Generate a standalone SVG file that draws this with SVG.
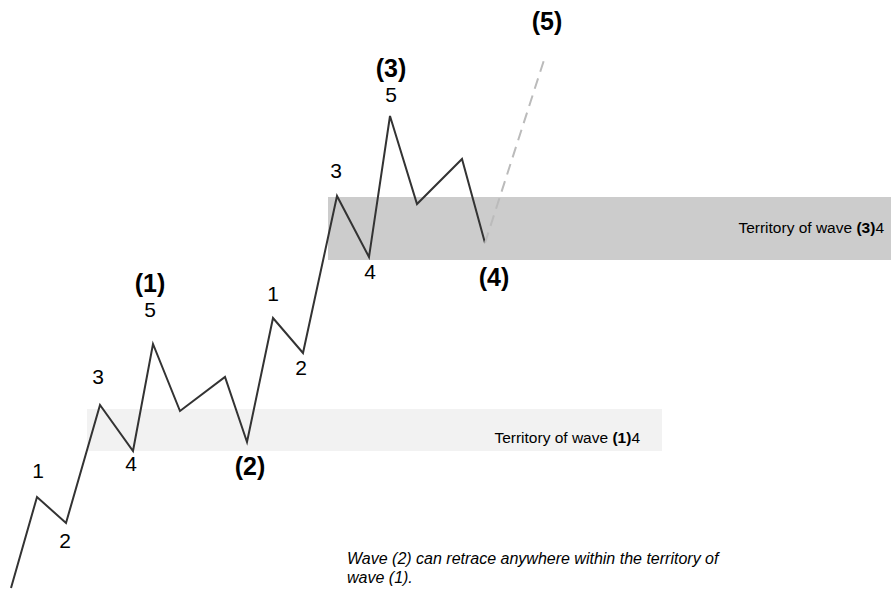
<svg xmlns="http://www.w3.org/2000/svg" width="891" height="589" viewBox="0 0 891 589">
<style>
text{font-family:"Liberation Sans",Arial,sans-serif;fill:#000}
.n{font-size:21px;text-anchor:middle}
.b{font-size:25px;font-weight:bold;text-anchor:middle}
.t{font-size:15.5px;text-anchor:end}
.i{font-size:16px;font-style:italic}
.w{fill:none;stroke:#333;stroke-width:2;stroke-linejoin:miter}
</style>
<rect width="891" height="589" fill="#fff"/>
<g id="territory1"><rect x="87" y="409" width="575" height="42" fill="#f2f2f2"/>
<text class="t" x="640" y="443">Territory of wave <tspan font-weight="bold">(1)</tspan>4</text></g>
<g id="territory3"><rect x="328" y="197" width="563" height="63" fill="#cccccc"/>
<text class="t" x="884" y="233">Territory of wave <tspan font-weight="bold">(3)</tspan>4</text></g>
<g id="connectors">
<polyline class="w" points="11,588 37,497 66,523 100,405 133,451 153,344 180,411 225,377 247,442 273,318 303,353 337,196 369,257 390,116 417,204 462,159 485,243"/>
<line x1="485" y1="243" x2="544" y2="60" stroke="#bbb" stroke-width="2" stroke-dasharray="11,7"/>
</g>
<g id="labels">
<text class="n" x="38" y="478">1</text>
<text class="n" x="65" y="548">2</text>
<text class="n" x="98" y="384">3</text>
<text class="n" x="131" y="471">4</text>
<text class="n" x="150" y="317">5</text>
<text class="b" x="150" y="292">(1)</text>
<text class="b" x="250" y="475">(2)</text>
<text class="n" x="273" y="301">1</text>
<text class="n" x="301" y="375">2</text>
<text class="n" x="336" y="178">3</text>
<text class="n" x="370" y="279">4</text>
<text class="n" x="391" y="102">5</text>
<text class="b" x="391" y="77">(3)</text>
<text class="b" x="494" y="286">(4)</text>
<text class="b" x="547" y="30">(5)</text>
</g>
<g id="note">
<text class="i" x="347" y="564">Wave (2) can retrace anywhere within the territory of</text>
<text class="i" x="347" y="583">wave (1).</text>
</g>
</svg>
